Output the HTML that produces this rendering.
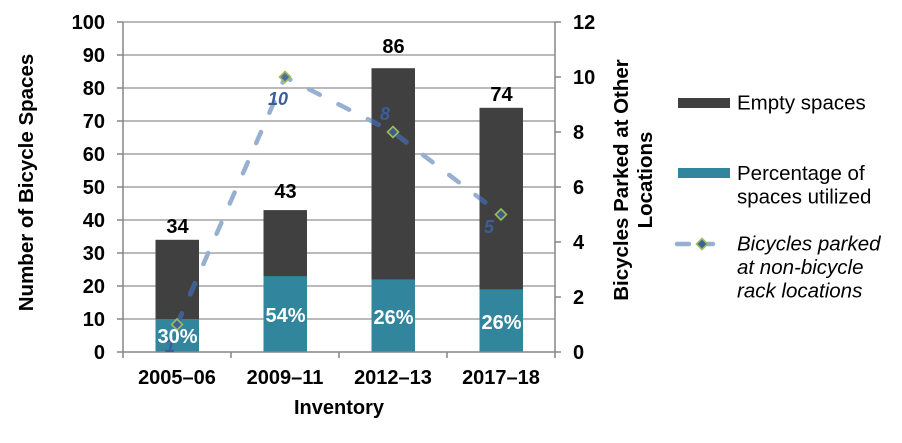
<!DOCTYPE html>
<html><head><meta charset="utf-8"><style>
html,body{margin:0;padding:0;background:#fff;}
svg{display:block;font-family:"Liberation Sans",Arial,sans-serif;}
</style></head><body>
<svg width="902" height="443" viewBox="0 0 902 443" xmlns="http://www.w3.org/2000/svg">
<defs>
<clipPath id="bars">
<rect x="155.5" y="239.8" width="43.5" height="112.2"/>
<rect x="263.5" y="210.1" width="43.5" height="141.9"/>
<rect x="371.5" y="68.2" width="43.5" height="283.8"/>
<rect x="479.5" y="107.8" width="43.5" height="244.2"/>
</clipPath>
</defs>
<g stroke="#a3a3a3" stroke-width="1.5">
<line x1="123" x2="555" y1="22" y2="22"/>
<line x1="123" x2="555" y1="55" y2="55"/>
<line x1="123" x2="555" y1="88" y2="88"/>
<line x1="123" x2="555" y1="121" y2="121"/>
<line x1="123" x2="555" y1="154" y2="154"/>
<line x1="123" x2="555" y1="187" y2="187"/>
<line x1="123" x2="555" y1="220" y2="220"/>
<line x1="123" x2="555" y1="253" y2="253"/>
<line x1="123" x2="555" y1="286" y2="286"/>
<line x1="123" x2="555" y1="319" y2="319"/>
</g>
<g fill="#404040">
<rect x="155.5" y="239.8" width="43.5" height="112.2"/>
<rect x="263.5" y="210.1" width="43.5" height="141.9"/>
<rect x="371.5" y="68.2" width="43.5" height="283.8"/>
<rect x="479.5" y="107.8" width="43.5" height="244.2"/>
</g>
<g fill="#31859c">
<rect x="155.5" y="319" width="43.5" height="33"/>
<rect x="263.5" y="276.1" width="43.5" height="75.9"/>
<rect x="371.5" y="279.4" width="43.5" height="72.6"/>
<rect x="479.5" y="289.3" width="43.5" height="62.7"/>
</g>
<g stroke="#868686" stroke-width="1.5">
<line x1="123" x2="123" y1="22" y2="352"/>
<line x1="555" x2="555" y1="22" y2="352"/>
<line x1="117" x2="561" y1="352" y2="352"/>
<line x1="117" x2="123" y1="22" y2="22"/>
<line x1="117" x2="123" y1="55" y2="55"/>
<line x1="117" x2="123" y1="88" y2="88"/>
<line x1="117" x2="123" y1="121" y2="121"/>
<line x1="117" x2="123" y1="154" y2="154"/>
<line x1="117" x2="123" y1="187" y2="187"/>
<line x1="117" x2="123" y1="220" y2="220"/>
<line x1="117" x2="123" y1="253" y2="253"/>
<line x1="117" x2="123" y1="286" y2="286"/>
<line x1="117" x2="123" y1="319" y2="319"/>
<line x1="123" x2="123" y1="352" y2="358"/>
<line x1="231" x2="231" y1="352" y2="358"/>
<line x1="339" x2="339" y1="352" y2="358"/>
<line x1="447" x2="447" y1="352" y2="358"/>
<line x1="555" x2="555" y1="352" y2="358"/>
<line x1="555" x2="561" y1="22" y2="22"/>
<line x1="555" x2="561" y1="77" y2="77"/>
<line x1="555" x2="561" y1="132" y2="132"/>
<line x1="555" x2="561" y1="187" y2="187"/>
<line x1="555" x2="561" y1="242" y2="242"/>
<line x1="555" x2="561" y1="297" y2="297"/>
</g>
<text x="170" y="352" font-size="18" font-weight="bold" font-style="italic" fill="#3a5e9c" text-anchor="middle">1</text>
<path d="M177,324.5 L285,77 L393,132 L501,214.5" fill="none" stroke="#97afd0" stroke-width="4.5" stroke-linecap="round" stroke-dasharray="12 21"/>
<path d="M177,324.5 L285,77 L393,132 L501,214.5" fill="none" stroke="#3d5f96" stroke-width="4.5" stroke-linecap="round" stroke-dasharray="12 21" clip-path="url(#bars)"/>
<g fill="#3f6099" fill-opacity="0.85" stroke="#9bbb59" stroke-width="1.6">
<path d="M177,319 L182.5,324.5 L177,330 L171.5,324.5 Z"/>
<path d="M285,71.5 L290.5,77 L285,82.5 L279.5,77 Z"/>
<path d="M393,126.5 L398.5,132 L393,137.5 L387.5,132 Z"/>
<path d="M501,209 L506.5,214.5 L501,220 L495.5,214.5 Z"/>
</g>
<g font-size="18" font-weight="bold" font-style="italic" fill="#3a5e9c" text-anchor="middle">
<text x="278" y="105">10</text>
<text x="385" y="120">8</text>
<text x="489" y="233">5</text>
</g>
<g font-size="20" font-weight="bold" fill="#000" text-anchor="middle">
<text x="177.5" y="233">34</text>
<text x="285.5" y="198">43</text>
<text x="393.5" y="53">86</text>
<text x="501.5" y="101">74</text>
</g>
<g font-size="20" font-weight="bold" fill="#fff" text-anchor="middle">
<text x="177.5" y="343">30%</text>
<text x="285.5" y="322">54%</text>
<text x="393.5" y="324">26%</text>
<text x="501.5" y="329">26%</text>
</g>
<g font-size="20" font-weight="bold" fill="#000" text-anchor="end">
<text x="105" y="29">100</text>
<text x="105" y="62">90</text>
<text x="105" y="95">80</text>
<text x="105" y="128">70</text>
<text x="105" y="161">60</text>
<text x="105" y="194">50</text>
<text x="105" y="227">40</text>
<text x="105" y="260">30</text>
<text x="105" y="293">20</text>
<text x="105" y="326">10</text>
<text x="105" y="359">0</text>
</g>
<g font-size="20" font-weight="bold" fill="#000" text-anchor="start">
<text x="573" y="29">12</text>
<text x="573" y="84">10</text>
<text x="573" y="139">8</text>
<text x="573" y="194">6</text>
<text x="573" y="249">4</text>
<text x="573" y="304">2</text>
<text x="573" y="359">0</text>
</g>
<g font-size="20" font-weight="bold" fill="#000" text-anchor="middle">
<text x="177" y="384">2005–06</text>
<text x="285" y="384">2009–11</text>
<text x="393" y="384">2012–13</text>
<text x="501" y="384">2017–18</text>
<text x="339" y="414">Inventory</text>
</g>
<text transform="translate(33,182.5) rotate(-90)" font-size="20.5" font-weight="bold" text-anchor="middle">Number of Bicycle Spaces</text>
<text transform="translate(628,180) rotate(-90)" font-size="20.5" font-weight="bold" text-anchor="middle">Bicycles Parked at Other</text>
<text transform="translate(652,180) rotate(-90)" font-size="20.5" font-weight="bold" text-anchor="middle">Locations</text>
<rect x="678" y="98" width="52" height="10" fill="#404040"/>
<rect x="678" y="168" width="52" height="10" fill="#31859c"/>
<line x1="677" x2="725" y1="244" y2="244" stroke="#97afd0" stroke-width="4.5" stroke-linecap="round" stroke-dasharray="12 12"/>
<path d="M702,238.5 L707.5,244 L702,249.5 L696.5,244 Z" fill="#3f6099" stroke="#9bbb59" stroke-width="1.6"/>
<g font-size="20.5" fill="#000">
<text x="737" y="109.5">Empty spaces</text>
<text x="737" y="180">Percentage of</text>
<text x="737" y="203.5">spaces utilized</text>
<g font-style="italic">
<text x="737" y="250.7">Bicycles parked</text>
<text x="737" y="274">at non-bicycle</text>
<text x="737" y="297.3">rack locations</text>
</g>
</g>
</svg>
</body></html>
